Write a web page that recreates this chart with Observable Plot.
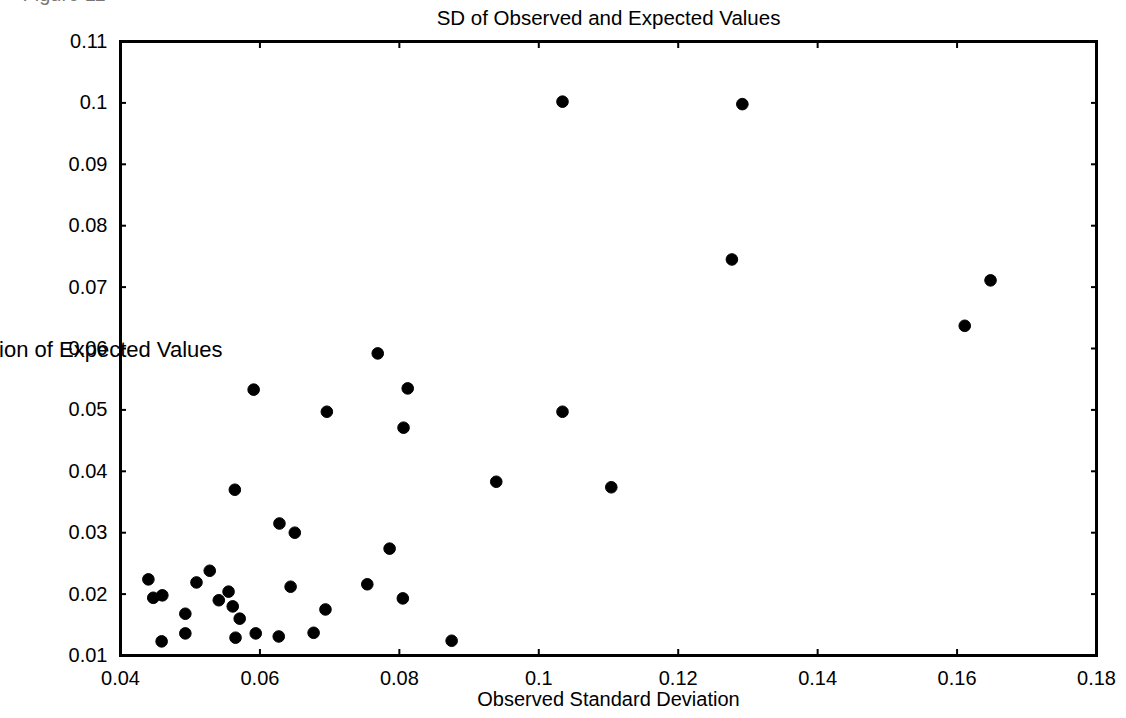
<!DOCTYPE html>
<html><head><meta charset="utf-8">
<script src="https://cdn.jsdelivr.net/npm/d3@7"></script>
<script src="https://cdn.jsdelivr.net/npm/@observablehq/plot@0.6"></script>
<style>html,body{margin:0;padding:0;background:#fff;} svg{display:block;}</style>
</head><body><div id="chart"></div>
<script>
// Observed standard deviation (x) and standard deviation of expected values (y)
const observedSD = [0.1034, 0.1292, 0.1277, 0.1648, 0.1611, 0.0769, 0.0591, 0.0812, 0.0696, 0.1034,
  0.0806, 0.0939, 0.1104, 0.0564, 0.0628, 0.0650, 0.0786, 0.0440, 0.0447, 0.0460,
  0.0509, 0.0528, 0.0555, 0.0541, 0.0561, 0.0571, 0.0493, 0.0493, 0.0459, 0.0565,
  0.0594, 0.0627, 0.0677, 0.0644, 0.0694, 0.0754, 0.0805, 0.0875];
const expectedSD = [0.1002, 0.0998, 0.0745, 0.0711, 0.0637, 0.0592, 0.0533, 0.0535, 0.0497, 0.0497,
  0.0471, 0.0383, 0.0374, 0.0370, 0.0315, 0.0300, 0.0274, 0.0224, 0.0194, 0.0198,
  0.0219, 0.0238, 0.0204, 0.0190, 0.0180, 0.0160, 0.0168, 0.0136, 0.0123, 0.0129,
  0.0136, 0.0131, 0.0137, 0.0212, 0.0175, 0.0216, 0.0193, 0.0124];
const xTicks = [0.04, 0.06, 0.08, 0.1, 0.12, 0.14, 0.16, 0.18];
const yTicks = [0.01, 0.02, 0.03, 0.04, 0.05, 0.06, 0.07, 0.08, 0.09, 0.1, 0.11];
const titleText = "SD of Observed and Expected Values";
const xLabelText = "Observed Standard Deviation";
const yLabelText = "Standard Deviation of Expected Values";
const figureText = "Figure 11";

const points = observedSD.map((x, i) => ({x, y: expectedSD[i]}));
const fmt = v => String(Math.round(v * 100) / 100);
const font = "'Liberation Sans', Arial, Helvetica, sans-serif";

const chart = Plot.plot({
  width: 1126, height: 718,
  marginLeft: 120, marginRight: 30, marginTop: 41, marginBottom: 63,
  style: {fontFamily: font, fontSize: "20px", background: "#fff", color: "#000"},
  x: {domain: [0.04, 0.18]},
  y: {domain: [0.01, 0.11]},
  marks: [
    // inward ticks on all four sides
    Plot.axisX(xTicks, {anchor: "bottom", tickSize: -6, strokeWidth: 2, tickFormat: () => "", label: null}),
    Plot.axisX(xTicks, {anchor: "top", tickSize: -6, strokeWidth: 2, tickFormat: () => "", label: null}),
    Plot.axisY(yTicks, {anchor: "left", tickSize: -6, strokeWidth: 2, tickFormat: () => "", label: null}),
    Plot.axisY(yTicks, {anchor: "right", tickSize: -6, strokeWidth: 2, tickFormat: () => "", label: null}),
    // tick labels
    Plot.axisX(xTicks, {anchor: "bottom", tickSize: 0, tickPadding: 15, tickFormat: fmt, label: null, fontSize: 20}),
    Plot.axisY(yTicks, {anchor: "left", tickSize: 0, tickPadding: 13, tickFormat: fmt, label: null, fontSize: 20}),
    Plot.frame({stroke: "#000", strokeWidth: 3}),
    Plot.dot(points, {x: "x", y: "y", r: 5.8, fill: "#000", stroke: "#000", strokeWidth: 1}),
    // titles
    Plot.text([titleText], {frameAnchor: "top", dy: -31, fontSize: 20.5, fill: "#000"}),
    Plot.text([xLabelText], {frameAnchor: "bottom", dy: 50, fontSize: 20, fill: "#000"}),
    Plot.text([yLabelText], {frameAnchor: "left", textAnchor: "end", dx: 102, dy: 1, fontSize: 22, fill: "#000"}),
    Plot.text([figureText], {frameAnchor: "top-left", textAnchor: "start", dx: -98, dy: -55, fontSize: 20, fill: "#777"})
  ]
});
document.getElementById("chart").appendChild(chart);
</script>
</body></html>
